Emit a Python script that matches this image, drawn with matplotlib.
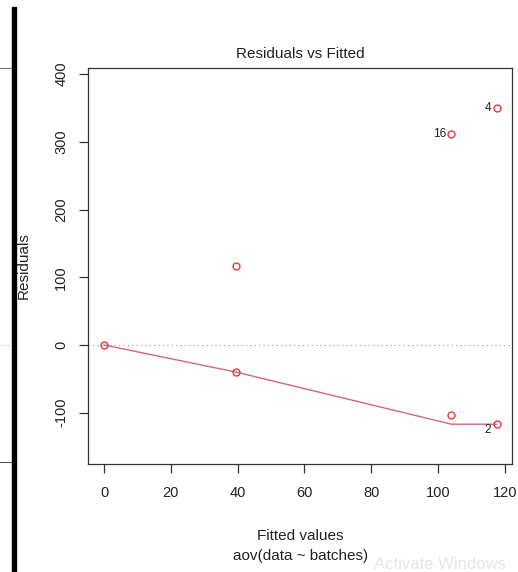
import matplotlib
matplotlib.use("Agg")
import matplotlib.pyplot as plt
from matplotlib.lines import Line2D

plt.rcParams['font.family'] = ['Liberation Sans', 'DejaVu Sans']

# ---- data ----
fitted = [0.0, 39.5, 39.5, 104.0, 104.0, 117.5, 117.5]
residuals = [0.0, 116.0, -40.0, 311.0, -103.5, 350.0, -117.0]
smooth_x = [0.0, 39.5, 104.0, 117.5]
smooth_y = [0.0, -40.0, -117.0, -117.0]
id_labels = ["4", "16", "2"]
id_x = [117.5, 104.0, 117.5]
id_y = [350.0, 311.0, -117.0]
x_ticks = [0, 20, 40, 60, 80, 100, 120]
y_ticks = [-100, 0, 100, 200, 300, 400]
title = "Residuals vs Fitted"
xlabel = "Fitted values"
sublabel = "aov(data ~ batches)"
ylabel = "Residuals"

W, H = 518, 572
fig = plt.figure(figsize=(W / 100, H / 100), dpi=100)
fig.patch.set_facecolor('white')

L, R, T, B = 88.3, 512.3, 68.0, 464.3
ax = fig.add_axes([L / W, 1 - B / H, (R - L) / W, (B - T) / H])
ax.set_xlim(-4.7, 122.2)
ax.set_ylim(-176.2, 409)

ax.axhline(0, color='#aaaaaa', lw=0.9, ls=(0, (1, 2.5)), zorder=1)
ax.plot(smooth_x, smooth_y, color='#d2667c', lw=1.0, zorder=2)
ax.plot(fitted, residuals, ls='none', marker='o', ms=5, mfc='none',
        mec='#e03a3e', mew=1.0, zorder=3)

for lab, x, y in zip(id_labels, id_x, id_y):
    dy = -4 if lab == "2" else 0
    ax.annotate(lab, (x, y), xytext=(-4, dy), textcoords='offset points',
                ha='right', va='center', fontsize=8.5, color='#222222')

for s in ax.spines.values():
    s.set_color('#333333')
    s.set_linewidth(0.9)

ax.set_xticks(x_ticks)
ax.set_yticks(y_ticks)
ax.set_xticklabels([str(v) for v in x_ticks])
ax.set_yticklabels([str(v) for v in y_ticks])
ax.tick_params(axis='both', direction='out', length=6.5, width=0.9,
               color='#333333', labelsize=10.5, labelcolor='#222222')
ax.tick_params(axis='x', pad=9)
ax.tick_params(axis='y', pad=8)
for t in ax.get_yticklabels():
    t.set_rotation(90)
    t.set_va('center')
    t.set_ha('right')

fig.text(300.3 / W, 1 - 54 / H, title, ha='center', va='center',
         fontsize=11, color='#222222')
fig.text(300.3 / W, 1 - 536 / H, xlabel, ha='center', va='center',
         fontsize=11, color='#222222')
fig.text(300.3 / W, 1 - 556 / H, sublabel, ha='center', va='center',
         fontsize=11, color='#222222')
fig.text(24 / W, 1 - 266 / H, ylabel, ha='center', va='center',
         rotation=90, fontsize=11, color='#222222')

# left-side remnants of a neighbouring panel
fig.patches.append(plt.Rectangle((12 / W, 0), 3.5 / W, 1 - 7 / H,
                                 transform=fig.transFigure, color='black', zorder=5))
fig.add_artist(Line2D([0, 12 / W], [1 - 68 / H, 1 - 68 / H], color='#777777', lw=0.8))
fig.add_artist(Line2D([0, 12 / W], [1 - 462 / H, 1 - 462 / H], color='#555555', lw=0.8))
fig.add_artist(Line2D([0, 10 / W], [1 - 345 / H, 1 - 345 / H], color='#bbbbbb', lw=0.8,
                      ls=(0, (1, 2.5))))

# faint watermark
fig.text(374 / W, 1 - 569 / H, "Activate Windows", ha='left', va='baseline',
         fontsize=12, color='#e6e6e6', zorder=0)

fig.savefig('out.png', dpi=100)
